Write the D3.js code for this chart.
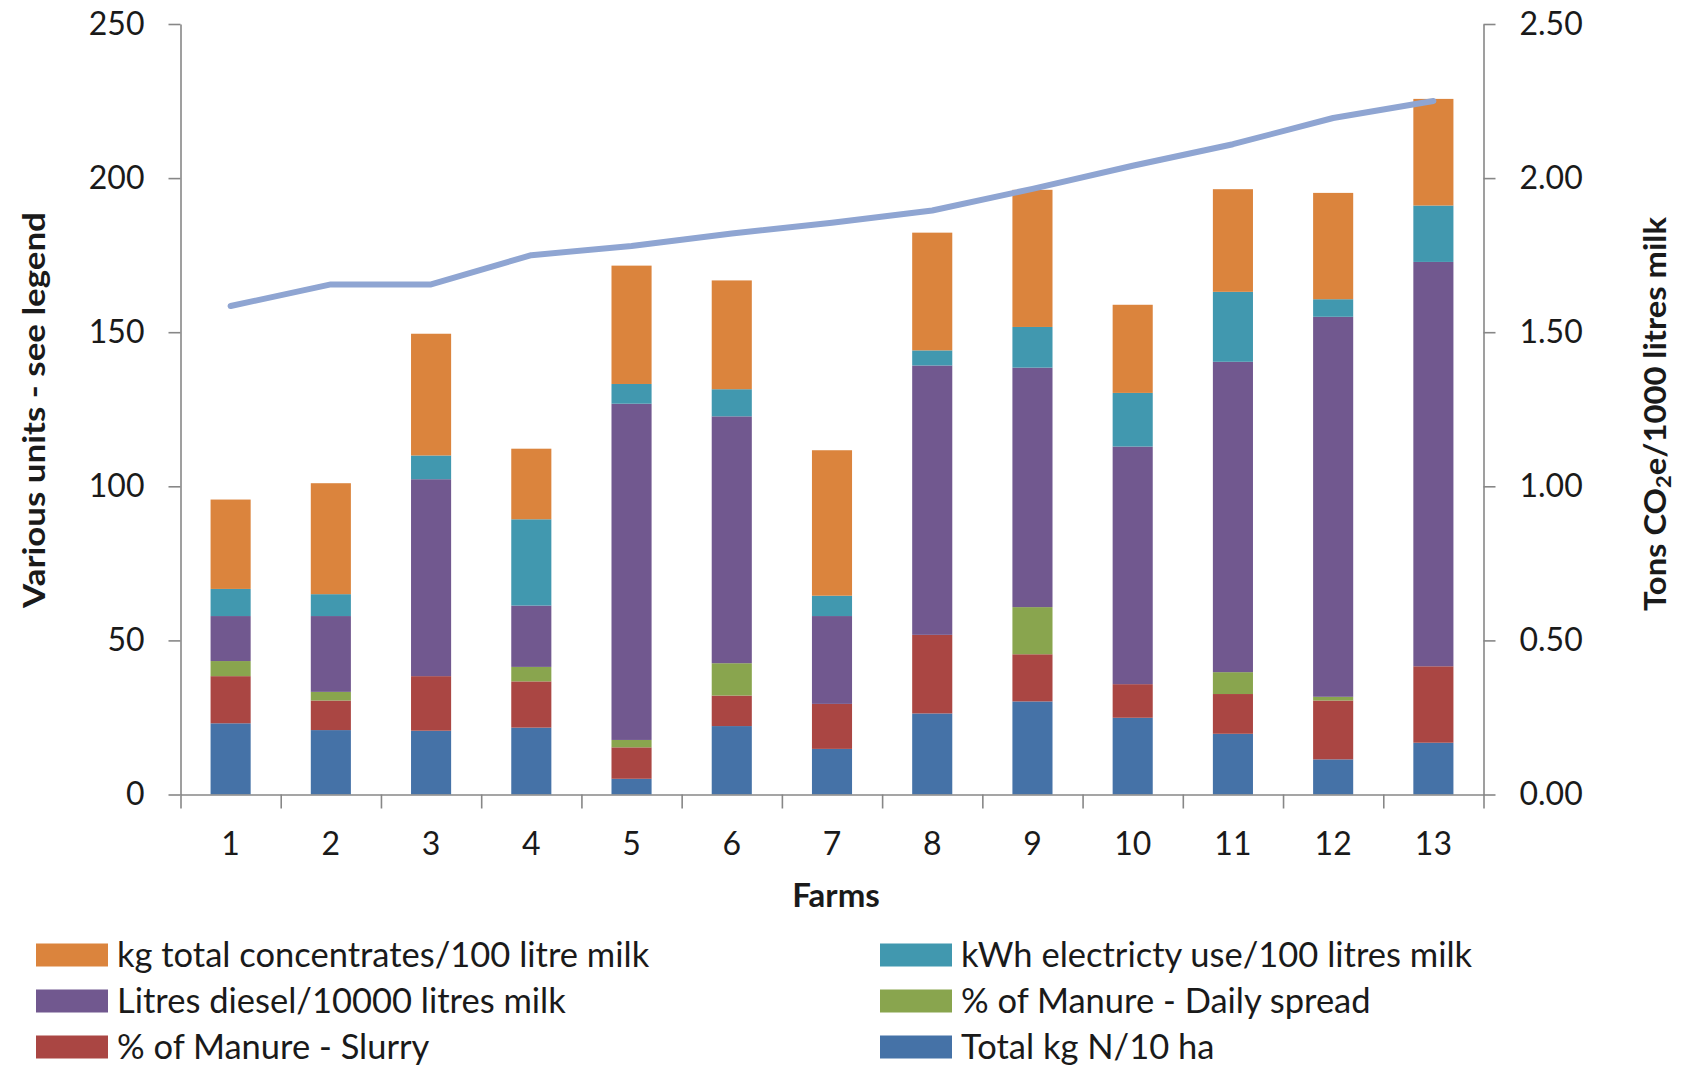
<!DOCTYPE html>
<html>
<head>
<meta charset="utf-8">
<script src="https://cdn.jsdelivr.net/npm/d3@7"></script>
<style>
  html, body { margin: 0; padding: 0; background: #fff; }
  svg { display: block; }
  text { font-family: Lato, "Open Sans", "DejaVu Sans", sans-serif; fill: #1a1a1a; }
</style>
</head>
<body>
<svg id="chart" width="1688" height="1073"></svg>
<script>
// ---- data ----
const farms = ["1","2","3","4","5","6","7","8","9","10","11","12","13"];
const totalN       = [23.1, 20.9, 20.7, 21.7, 5.1, 22.2, 14.8, 26.3, 30.2, 24.9, 19.7, 11.4, 16.8];
const slurry       = [15.3, 9.6, 17.7, 15.0, 10.2, 9.9, 14.6, 25.5, 15.3, 10.9, 12.9, 19.1, 24.8];
const dailySpread  = [4.9, 2.8, 0, 4.7, 2.4, 10.5, 0, 0, 15.3, 0, 7.1, 1.2, 0];
const diesel       = [14.6, 24.6, 63.9, 19.9, 109.1, 80.1, 28.5, 87.4, 77.7, 77.1, 100.7, 123.3, 131.2];
const electricity  = [8.8, 7.1, 7.7, 28.0, 6.4, 8.8, 6.6, 4.9, 13.2, 17.4, 22.7, 5.7, 18.3];
const concentrates = [29.0, 36.0, 39.5, 22.9, 38.4, 35.3, 47.2, 38.2, 44.5, 28.6, 33.3, 34.5, 34.6];
const co2PerLitre  = [1.585, 1.655, 1.655, 1.75, 1.78, 1.82, 1.855, 1.895, 1.965, 2.04, 2.11, 2.195, 2.25];

const seriesNames = ["Total kg N/10 ha", "% of Manure - Slurry", "% of Manure - Daily spread",
  "Litres diesel/10000 litres milk", "kWh electricty use/100 litres milk", "kg total concentrates/100 litre milk"];
const leftTicks  = [0, 50, 100, 150, 200, 250];
const rightTicks = [0, 0.5, 1.0, 1.5, 2.0, 2.5];
const legendOrder = [5, 4, 3, 2, 1, 0]; // row-wise: left, right

// ---- styles ----
const colors = ["#4572A7", "#AA4643", "#89A54E", "#71588F", "#4198AF", "#DB843D"];
const lineColor = "#8FA5D2";
const axisColor = "#878787";

const svg = d3.select("#chart");
const L = 180.5, R = 1483.5, T = 24, B = 794.5;

const x = d3.scaleBand().domain(farms).range([L, R]).paddingInner(0.6).paddingOuter(0.3);
const xEdge = d3.scaleLinear().domain([0, farms.length]).range([L, R]);
const y = d3.scaleLinear().domain([0, 250]).range([B, T]);
const y2 = d3.scaleLinear().domain([0, 2.5]).range([B, T]);

const seriesArrays = [totalN, slurry, dailySpread, diesel, electricity, concentrates];
const rows = farms.map((f, i) => {
  const o = { farm: f };
  seriesArrays.forEach((arr, k) => o["s" + k] = arr[i]);
  return o;
});
const keys = seriesArrays.map((_, k) => "s" + k);
const stacked = d3.stack().keys(keys)(rows);

// bars
svg.append("g").selectAll("g").data(stacked).join("g")
  .attr("fill", (d, k) => colors[k])
  .selectAll("rect").data(d => d).join("rect")
  .attr("x", d => x(d.data.farm))
  .attr("width", x.bandwidth())
  .attr("y", d => y(d[1]))
  .attr("height", d => Math.max(0, y(d[0]) - y(d[1])));

// axes
const axisStyle = g => {
  g.selectAll(".domain").attr("stroke", axisColor).attr("stroke-width", 1.6);
  g.selectAll(".tick line").attr("stroke", axisColor).attr("stroke-width", 1.6);
  g.selectAll("text").attr("font-size", 32).attr("fill", "#1a1a1a").attr("font-family", "Lato, sans-serif");
};

svg.append("g").attr("transform", `translate(${L},0)`)
  .call(d3.axisLeft(y).tickValues(leftTicks).tickSize(12).tickPadding(24).tickSizeOuter(0))
  .call(axisStyle);

svg.append("g").attr("transform", `translate(${R},0)`)
  .call(d3.axisRight(y2).tickValues(rightTicks).tickFormat(d3.format(".2f")).tickSize(12).tickPadding(24).tickSizeOuter(0))
  .call(axisStyle);

svg.append("g").attr("transform", `translate(0,${B})`)
  .call(d3.axisBottom(xEdge).tickValues(d3.range(farms.length + 1)).tickFormat("").tickSize(14).tickSizeOuter(0))
  .call(axisStyle);

svg.append("g").attr("transform", `translate(0,${B})`)
  .call(d3.axisBottom(x).tickSize(0).tickPadding(38))
  .call(g => g.select(".domain").remove())
  .call(axisStyle);

// line
svg.append("path")
  .datum(co2PerLitre)
  .attr("fill", "none")
  .attr("stroke", lineColor)
  .attr("stroke-width", 6)
  .attr("stroke-linejoin", "round")
  .attr("stroke-linecap", "round")
  .attr("d", d3.line().x((d, i) => x(farms[i]) + x.bandwidth() / 2).y(d => y2(d)));

// axis titles (stretched along their length to match the condensed original)
function fitRotated(textSel, cx, cy, target) {
  textSel.attr("transform", `translate(${cx},${cy}) rotate(-90)`);
  const len = textSel.node().getComputedTextLength();
  textSel.attr("transform", `translate(${cx},${cy}) rotate(-90) scale(${target / len},1)`);
}

const lt = svg.append("text")
  .attr("text-anchor", "middle").attr("dominant-baseline", "central")
  .attr("font-size", 30).attr("font-weight", "bold")
  .text("Various units - see legend");
fitRotated(lt, 33, 410, 396);

const rt = svg.append("text")
  .attr("text-anchor", "middle").attr("dominant-baseline", "central")
  .attr("font-size", 30).attr("font-weight", "bold");
rt.append("tspan").text("Tons CO");
rt.append("tspan").attr("font-size", 20).attr("dy", 7).text("2");
rt.append("tspan").attr("dy", -7).text("e/1000 litres milk");
fitRotated(rt, 1655, 414, 394);

svg.append("text")
  .attr("x", (L + R) / 2 + 4).attr("y", 907)
  .attr("text-anchor", "middle")
  .attr("font-size", 33).attr("font-weight", "bold")
  .text("Farms");

// legend
const legendCols = [36, 880];
const legendRowY = [955, 1001, 1047];
const lg = svg.append("g").selectAll("g").data(legendOrder).join("g")
  .attr("transform", (k, i) => `translate(${legendCols[i % 2]},${legendRowY[Math.floor(i / 2)]})`);
lg.append("rect").attr("x", 0).attr("y", -11.5).attr("width", 72).attr("height", 23)
  .attr("fill", k => colors[k]);
lg.append("text").attr("x", 81).attr("y", 0).attr("dy", "0.36em")
  .attr("font-size", 34.5)
  .text(k => seriesNames[k]);
</script>
</body>
</html>
